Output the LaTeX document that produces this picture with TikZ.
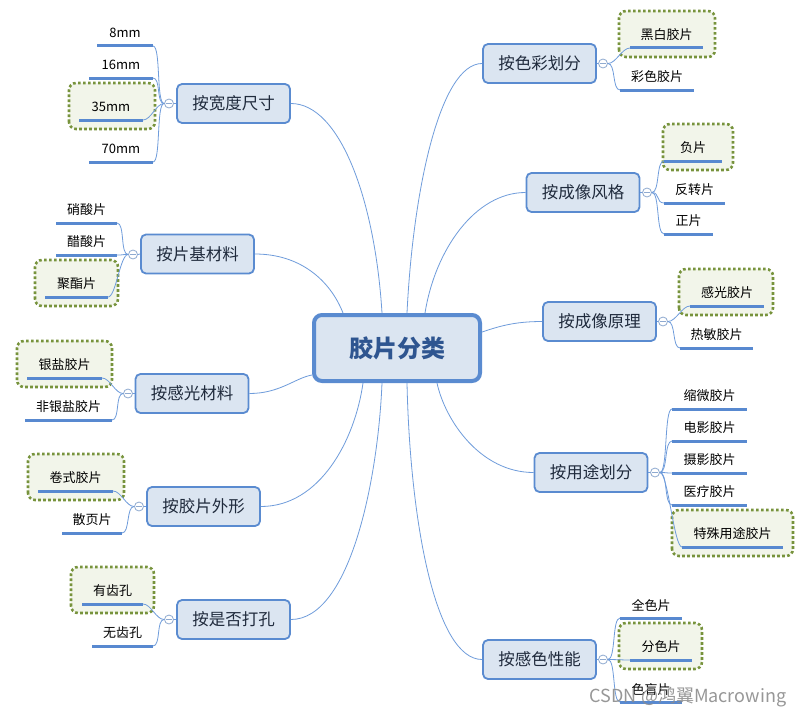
\documentclass[tikz,border=0pt]{standalone}
\usepackage{fontspec}
\setmainfont{Noto Sans CJK SC}
\usetikzlibrary{calc,backgrounds}
\definecolor{nodefill}{HTML}{DBE5F1}
\definecolor{nodeline}{HTML}{5A8BD0}
\definecolor{linkc}{HTML}{6F9CDB}
\definecolor{ulinec}{HTML}{5889D0}
\definecolor{olivec}{HTML}{77933C}
\definecolor{boxfill}{HTML}{F2F5EA}
\definecolor{titlec}{HTML}{2E5590}
\definecolor{maintext}{HTML}{1F2A3C}
\definecolor{togc}{HTML}{8FAAD0}
\newcommand\lbr[2]{\draw[link] (#1.west) .. controls ($(#1.west)+(-8,0)$) and ($(#2.south east)+(8,0)$) .. (#2.south east);}
\newcommand\rbr[2]{\draw[link] (#1.east) .. controls ($(#1.east)+(8,0)$) and ($(#2.south west)+(-8,0)$) .. (#2.south west);}
\newcommand\ul[1]{\draw[uline] (#1.south west) -- (#1.south east);}
\newcommand\hl[3]{\begin{scope}[on background layer]\draw[hlbox] ($(#1.south)+(#2,9)$) rectangle ($(#1.south)+(#3,-37)$);\end{scope}}
\begin{document}
\begin{tikzpicture}[x=1pt,y=-1pt,
  ctrbox/.style={draw=nodeline, line width=4pt, fill=nodefill, rounded corners=8pt, minimum width=166pt, minimum height=66pt, inner sep=0pt, font=\fontsize{24}{28}\selectfont\bfseries, text=titlec},
  mainbox/.style={draw=nodeline, line width=1.8pt, fill=nodefill, rounded corners=5pt, minimum width=113pt, minimum height=39pt, inner sep=0pt, font=\fontsize{16.5}{20}\selectfont, text=maintext},
  leaf/.style={minimum height=26pt, inner sep=0pt, outer sep=0pt, anchor=south, font=\fontsize{13}{15}\selectfont, text=black},
  uline/.style={draw=ulinec, line width=3pt},
  link/.style={draw=linkc, line width=0.8pt},
  hlbox/.style={draw=olivec, line width=2.6pt, dash pattern=on 2.6pt off 2.4pt, fill=boxfill, rounded corners=7pt},
  tog/.style={circle, draw=togc, fill=white, line width=0.8pt, minimum size=9pt, inner sep=0pt,
    path picture={\draw[togc, line width=0.8pt] ($(path picture bounding box.center)+(-2.6,0)$) -- ($(path picture bounding box.center)+(2.6,0)$);}}
]
\useasboundingbox (0,0) rectangle (805,717);
\begin{scope}[on background layer]
\fill[white] (0,0) rectangle (805,717);
\end{scope}

% centre
\node[ctrbox] (ctr) at (397,348) {胶片分类};

% main topics
\node[mainbox] (m1) at (233.5,103.5) {按宽度尺寸};
\node[mainbox] (m2) at (197.5,254) {按片基材料};
\node[mainbox] (m3) at (192,393.5) {按感光材料};
\node[mainbox] (m4) at (203.5,506.5) {按胶片外形};
\node[mainbox] (m5) at (233.5,619.5) {按是否打孔};
\node[mainbox] (r1) at (539.5,63.5) {按色彩划分};
\node[mainbox] (r2) at (583,192.5) {按成像风格};
\node[mainbox] (r3) at (599.5,321.5) {按成像原理};
\node[mainbox] (r4) at (591,472.5) {按用途划分};
\node[mainbox] (r5) at (539.5,659.5) {按感色性能};

% links centre -> topics
\draw[link] (m1.east) .. controls (340,103.5) and (375,200) .. ($(ctr.north west)+(70,0)$);
\draw[link] (m2.east) .. controls (300,254) and (330,280) .. ($(ctr.north west)+(31,0)$);
\draw[link] (m3.east) .. controls (280,393.5) and (295,378) .. ($(ctr.west)+(0,27)$);
\draw[link] (m4.east) .. controls (320,506.5) and (355,440) .. ($(ctr.south west)+(51,0)$);
\draw[link] (m5.east) .. controls (350,619.5) and (378,480) .. ($(ctr.south west)+(70,0)$);
\draw[link] (r1.west) .. controls (440,63.5) and (413,190) .. ($(ctr.north west)+(95,0)$);
\draw[link] (r2.west) .. controls (475,192.5) and (435,250) .. ($(ctr.north west)+(113,0)$);
\draw[link] (r3.west) .. controls (515,321.5) and (500,326) .. ($(ctr.east)+(0,-16)$);
\draw[link] (r4.west) .. controls (480,472.5) and (445,420) .. ($(ctr.south west)+(125,0)$);
\draw[link] (r5.west) .. controls (435,659.5) and (410,520) .. ($(ctr.south west)+(95,0)$);

% toggles
\node[tog] (t1) at (169,103.5) {};
\node[tog] (t2) at (133,254.5) {};
\node[tog] (t3) at (128,393.5) {};
\node[tog] (t4) at (139,506.5) {};
\node[tog] (t5) at (169,619.5) {};
\node[tog] (u1) at (603,63.5) {};
\node[tog] (u2) at (647,192.5) {};
\node[tog] (u3) at (663,321.5) {};
\node[tog] (u4) at (655,472.5) {};
\node[tog] (u5) at (603,659.5) {};
\foreach \t/\m in {t1/m1,t2/m2,t3/m3,t4/m4,t5/m5}{\draw[link] (\t.east) -- (\m.west);}
\foreach \t/\m in {u1/r1,u2/r2,u3/r3,u4/r4,u5/r5}{\draw[link] (\t.west) -- (\m.east);}

% leaves
\node[leaf, minimum width=56pt] (a1) at (125,46) {8mm};
\node[leaf, minimum width=64pt] (a2) at (121,78) {16mm};
\node[leaf, minimum width=64pt] (a3) at (111,120) {35mm};
\node[leaf, minimum width=64pt] (a4) at (121,162) {70mm};

\node[leaf, minimum width=61pt] (b1) at (86.5,223) {硝酸片};
\node[leaf, minimum width=61pt] (b2) at (86.5,255) {醋酸片};
\node[leaf, minimum width=63pt] (b3) at (76.5,297) {聚酯片};

\node[leaf, minimum width=75pt] (c1) at (64.5,378) {银盐胶片};
\node[leaf, minimum width=87pt] (c2) at (68.5,420) {非银盐胶片};

\node[leaf, minimum width=75pt] (d1) at (75.5,491) {卷式胶片};
\node[leaf, minimum width=60pt] (d2) at (92,533) {散页片};

\node[leaf, minimum width=61pt] (e1) at (112.5,604) {有齿孔};
\node[leaf, minimum width=61pt] (e2) at (122.5,646) {无齿孔};

\node[leaf, minimum width=73pt] (f1) at (666.5,48) {黑白胶片};
\node[leaf, minimum width=74pt] (f2) at (657,90) {彩色胶片};

\node[leaf, minimum width=58pt] (g1) at (693,161) {负片};
\node[leaf, minimum width=61pt] (g2) at (694.5,203) {反转片};
\node[leaf, minimum width=49pt] (g3) at (688.5,234) {正片};

\node[leaf, minimum width=74pt] (h1) at (727,306) {感光胶片};
\node[leaf, minimum width=73pt] (h2) at (716.5,348) {热敏胶片};

\node[leaf, minimum width=75pt] (i1) at (709.5,409) {缩微胶片};
\node[leaf, minimum width=75pt] (i2) at (709.5,441) {电影胶片};
\node[leaf, minimum width=75pt] (i3) at (709.5,473) {摄影胶片};
\node[leaf, minimum width=75pt] (i4) at (709.5,505) {医疗胶片};
\node[leaf, minimum width=101pt] (i5) at (732.5,547) {特殊用途胶片};

\node[leaf, minimum width=62pt] (j1) at (651,618) {全色片};
\node[leaf, minimum width=62pt] (j2) at (661,660) {分色片};
\node[leaf, minimum width=62pt] (j3) at (651,702) {色盲片};

% highlight boxes
\hl{a3}{-42}{44}
\hl{b3}{-41.5}{41.5}
\hl{c1}{-47.5}{47.5}
\hl{d1}{-47.5}{48.5}
\hl{e1}{-41.5}{41.5}
\hl{f1}{-47.5}{48.5}
\hl{g1}{-30}{40}
\hl{h1}{-48}{46}
\hl{i5}{-60.5}{60.5}
\hl{j2}{-42}{41}

% leaf connectors
\foreach \l in {a1,a2,a3,a4}{\lbr{t1}{\l}}
\foreach \l in {b1,b2,b3}{\lbr{t2}{\l}}
\foreach \l in {c1,c2}{\lbr{t3}{\l}}
\foreach \l in {d1,d2}{\lbr{t4}{\l}}
\foreach \l in {e1,e2}{\lbr{t5}{\l}}
\foreach \l in {f1,f2}{\rbr{u1}{\l}}
\foreach \l in {g1,g2,g3}{\rbr{u2}{\l}}
\foreach \l in {h1,h2}{\rbr{u3}{\l}}
\foreach \l in {i1,i2,i3,i4,i5}{\rbr{u4}{\l}}
\foreach \l in {j1,j2,j3}{\rbr{u5}{\l}}

% underlines
\foreach \l in {a1,a2,a3,a4,b1,b2,b3,c1,c2,d1,d2,e1,e2,f1,f2,g1,g2,g3,h1,h2,i1,i2,i3,i4,i5,j1,j2,j3}{\ul{\l}}

% watermark
\node[font=\fontsize{18}{20}\selectfont, text=black!45, opacity=0.9, inner sep=0pt] (wm) at (688,697) {CSDN @鸿翼Macrowing};
\end{tikzpicture}
\end{document}
